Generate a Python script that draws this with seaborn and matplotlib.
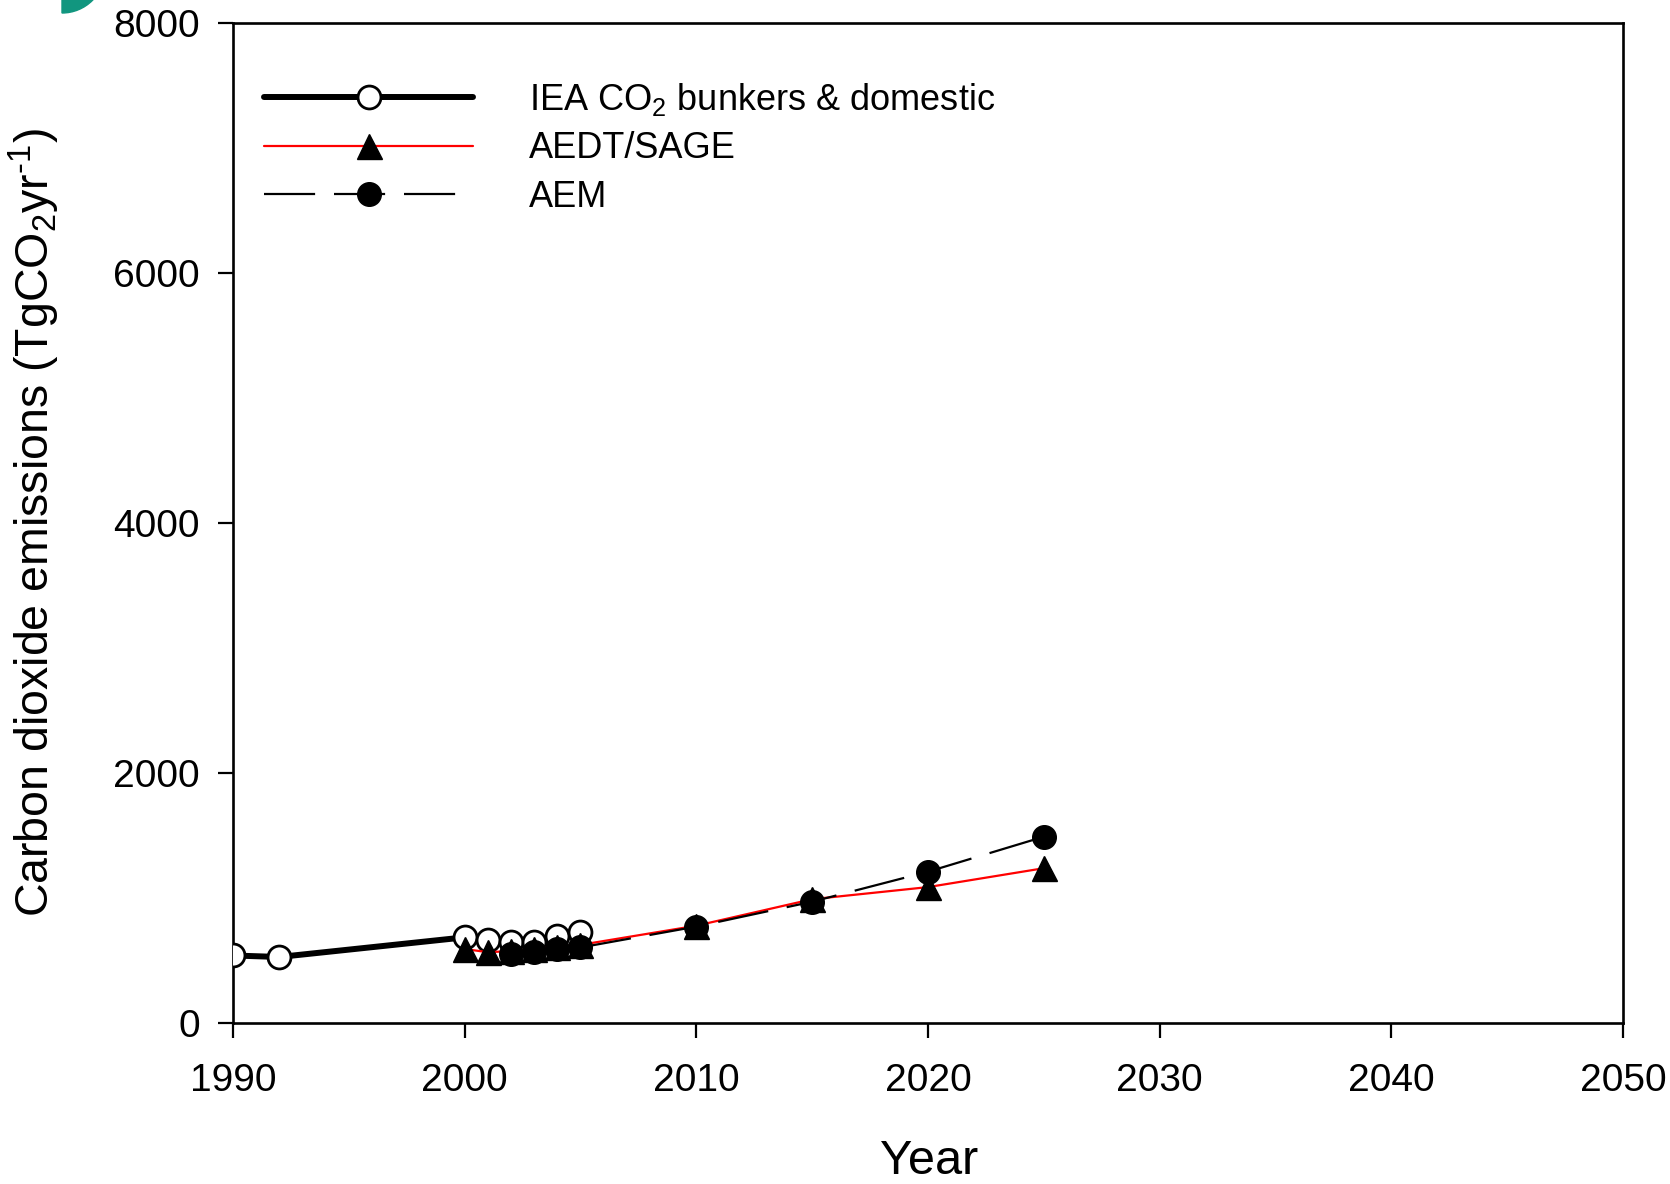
import matplotlib
matplotlib.use("Agg")
import matplotlib.pyplot as plt
import matplotlib.patches as mpatches
import seaborn as sns
import pandas as pd

# ---- data ----
iea_years = [1990, 1992, 2000, 2001, 2002, 2003, 2004, 2005]
iea_values = [540, 528, 685, 664, 651, 651, 695, 730]

aedt_years = [2000, 2001, 2002, 2003, 2004, 2005, 2010, 2015, 2020, 2025]
aedt_values = [592, 566, 575, 592, 610, 625, 778, 990, 1087, 1238]

aem_years = [2002, 2003, 2004, 2005, 2010, 2015, 2020, 2025]
aem_values = [552, 564, 592, 604, 771, 970, 1210, 1490]

x_ticks = [1990, 2000, 2010, 2020, 2030, 2040, 2050]
y_ticks = [0, 2000, 4000, 6000, 8000]

labels = ["IEA CO$_2$ bunkers & domestic", "AEDT/SAGE", "AEM"]

sns.set_style("ticks")
plt.rcParams["font.family"] = ["Liberation Sans", "DejaVu Sans"]
plt.rcParams["mathtext.fontset"] = "custom"
plt.rcParams["mathtext.rm"] = "Liberation Sans"
plt.rcParams["mathtext.it"] = "Liberation Sans"
plt.rcParams["mathtext.default"] = "regular"
plt.rcParams["text.color"] = "black"
plt.rcParams["axes.labelcolor"] = "black"
plt.rcParams["xtick.color"] = "black"
plt.rcParams["ytick.color"] = "black"

fig = plt.figure(figsize=(16.7, 11.84), dpi=100)
ax = fig.add_axes([0.1395, 0.136, 0.8323, 0.8446])

df_iea = pd.DataFrame({"Year": iea_years, "CO2": iea_values})
df_aedt = pd.DataFrame({"Year": aedt_years, "CO2": aedt_values})
df_aem = pd.DataFrame({"Year": aem_years, "CO2": aem_values})

sns.lineplot(data=df_iea, x="Year", y="CO2", ax=ax, color="black", lw=4.3,
             marker="o", markersize=16.5, markerfacecolor="white",
             markeredgecolor="black", markeredgewidth=2.0, label=labels[0], zorder=3)
sns.lineplot(data=df_aedt, x="Year", y="CO2", ax=ax, color="#ff0000", lw=1.6,
             marker="^", markersize=18, markerfacecolor="black",
             markeredgecolor="black", markeredgewidth=1.0, label=labels[1], zorder=4)
sns.lineplot(data=df_aem, x="Year", y="CO2", ax=ax, color="black", lw=1.6,
             linestyle=(0, (23, 8.5)),
             marker="o", markersize=17, markerfacecolor="black",
             markeredgecolor="black", markeredgewidth=1.0, label=labels[2], zorder=5)

ax.set_xlim(1990, 2050)
ax.set_ylim(0, 8000)
ax.set_xticks(x_ticks)
ax.set_yticks(y_ticks)
ax.set_xticklabels([str(t) for t in x_ticks])
ax.set_yticklabels([str(t) for t in y_ticks])

for s in ax.spines.values():
    s.set_visible(True)
    s.set_linewidth(1.9)
    s.set_color("black")

ax.tick_params(axis="both", direction="out", length=11, width=1.6, colors="black",
               labelcolor="black", labelsize=28)
ax.tick_params(axis="x", pad=18)
ax.tick_params(axis="y", pad=13)

ax.set_xlabel("Year", fontsize=35, color="black")
ax.set_ylabel("Carbon dioxide emissions (TgCO$_2$yr$^{\\text{-}1}$)", fontsize=33.5,
              color="black")
ax.xaxis.set_label_coords(0.5007, -0.116)
ax.yaxis.set_label_coords(-0.123, 0.5)

handles, _ = ax.get_legend_handles_labels()
leg = ax.legend(handles, labels, loc="upper left",
                bbox_to_anchor=(0.158, 0.932), bbox_transform=fig.transFigure,
                frameon=False, fontsize=26, handlelength=5.8, handletextpad=1.55,
                labelspacing=0.38, borderpad=0, borderaxespad=0, numpoints=1)
for t in leg.get_texts():
    t.set_color("black")

# partial teal panel marker at the top-left corner
wedge = mpatches.Wedge((0.62, 11.84 + 0.30), 0.43, 270, 360,
                       transform=fig.dpi_scale_trans, color="#11967f")
fig.add_artist(wedge)

fig.savefig("out.png", dpi=100)
